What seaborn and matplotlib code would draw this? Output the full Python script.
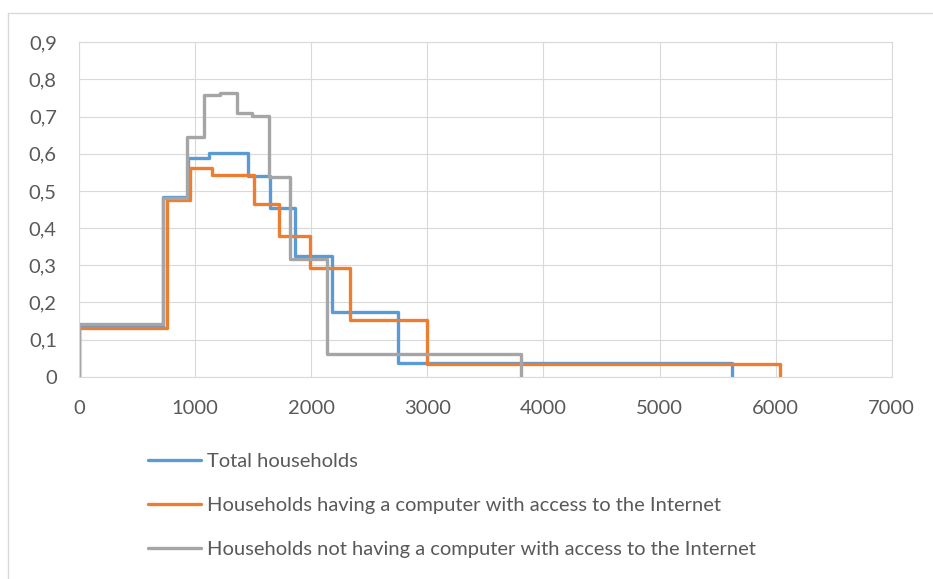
import pandas as pd
import matplotlib
matplotlib.use("Agg")
import matplotlib.pyplot as plt
import seaborn as sns
from matplotlib.ticker import FuncFormatter, MultipleLocator

# bin edges and densities
edges_total = [0, 726, 940, 1122, 1459, 1642, 1860, 2176, 2750, 5627]
dens_total = [0.137, 0.483, 0.588, 0.602, 0.540, 0.455, 0.324, 0.175, 0.037]

edges_net = [0, 758, 958, 1143, 1510, 1725, 1990, 2334, 2995, 6038]
dens_net = [0.132, 0.476, 0.561, 0.542, 0.465, 0.380, 0.293, 0.152, 0.034]

edges_nonet = [0, 721, 928, 1079, 1214, 1358, 1487, 1639, 1817, 2133, 3807]
dens_nonet = [0.141, 0.481, 0.646, 0.759, 0.763, 0.711, 0.702, 0.537, 0.318, 0.062]

labels = ["Total households",
          "Households having a computer with access to the Internet",
          "Households not having a computer with access to the Internet"]
colors = ["#5B9BD5", "#ED7D31", "#A5A5A5"]

x_ticks = [0, 1000, 2000, 3000, 4000, 5000, 6000, 7000]


def step_points(edges, dens):
    # points for a steps-post path that starts and ends on zero
    xs = [edges[0]] + edges[:-1] + [edges[-1]]
    ys = [0] + dens + [0]
    return xs, ys


frames = []
for lab, e, d in zip(labels, [edges_total, edges_net, edges_nonet],
                     [dens_total, dens_net, dens_nonet]):
    xs, ys = step_points(e, d)
    frames.append(pd.DataFrame({"x": xs, "y": ys, "series": lab}))
df = pd.concat(frames, ignore_index=True)

sns.set_theme(style="white")
plt.rcParams["font.family"] = ["Lato", "DejaVu Sans"]
text_col = "#595959"
grid_col = "#D9D9D9"
fs = 14.5

fig = plt.figure(figsize=(9.33, 5.79), dpi=100)
ax = fig.add_axes([79 / 933, 1 - 376.7 / 579, (891.7 - 79) / 933, (376.7 - 42.3) / 579])

sns.lineplot(data=df, x="x", y="y", hue="series", hue_order=labels,
             palette=colors, estimator=None, sort=False,
             drawstyle="steps-post", linewidth=2.4, ax=ax)

ax.set_xlim(0, 7000)
ax.set_ylim(0, 0.9)
ax.set_xticks(x_ticks)
ax.yaxis.set_major_locator(MultipleLocator(0.1))
ax.yaxis.set_major_formatter(FuncFormatter(
    lambda v, p: "0" if abs(v) < 1e-9 else f"{v:.1f}".replace(".", ",")))
ax.grid(True, color=grid_col, linewidth=0.8)
ax.set_axisbelow(True)
for s in ax.spines.values():
    s.set_color(grid_col)
    s.set_linewidth(0.8)
ax.tick_params(length=0, labelsize=fs, labelcolor=text_col)
ax.tick_params(axis="y", pad=16)
ax.tick_params(axis="x", pad=17)
ax.set_xlabel("")
ax.set_ylabel("")

sns.move_legend(ax, "upper left", bbox_to_anchor=(148 / 933, 1 - 453 / 579),
                bbox_transform=fig.transFigure, frameon=False, title=None,
                fontsize=fs, handlelength=2.65, handletextpad=0.3,
                labelspacing=1.34, borderpad=0, borderaxespad=0)
for t in ax.get_legend().get_texts():
    t.set_color(text_col)

# chart area border (only top and left are visible in the crop)
fig.add_artist(plt.Line2D([8.3 / 933, 8.3 / 933], [0, 1 - 12.7 / 579],
                          transform=fig.transFigure, color=grid_col, linewidth=1))
fig.add_artist(plt.Line2D([8.3 / 933, 1], [1 - 12.7 / 579, 1 - 12.7 / 579],
                          transform=fig.transFigure, color=grid_col, linewidth=1))

fig.savefig("out.png", dpi=100)
plt.close(fig)
